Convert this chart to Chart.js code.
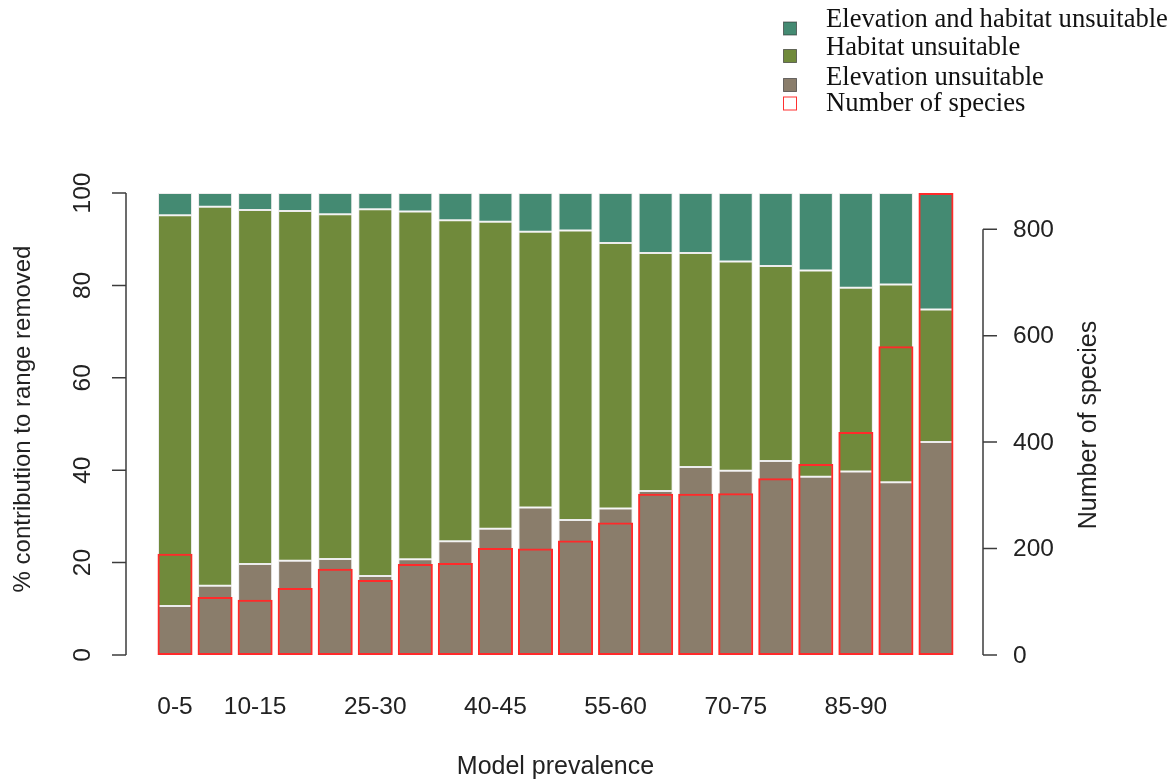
<!DOCTYPE html>
<html>
<head>
<meta charset="utf-8">
<script src="https://cdn.jsdelivr.net/npm/chart.js@4.4.1/dist/chart.umd.min.js"></script>
<style>
  html, body { margin: 0; padding: 0; background: #ffffff; }
  #wrap { width: 1175px; height: 781px; }
</style>
</head>
<body>
<div id="wrap"><canvas id="chart" width="1175" height="781"></canvas></div>
<script>
// Prevalence classes (model prevalence, %)
const categories = ['0-5', '5-10', '10-15', '15-20', '20-25', '25-30', '30-35', '35-40', '40-45', '45-50',
                    '50-55', '55-60', '60-65', '65-70', '70-75', '75-80', '80-85', '85-90', '90-95', '95-100'];
// Class labels printed under the bars
const shownTickLabels = ['0-5', '10-15', '25-30', '40-45', '55-60', '70-75', '85-90'];

// % contribution to range removed, per cause
const elevationUnsuitable = [10.6, 15.0, 19.7, 20.4, 20.8, 17.1, 20.7, 24.6, 27.3, 31.9,
                             29.2, 31.7, 35.5, 40.7, 39.9, 42.0, 38.6, 39.7, 37.4, 46.1];
const habitatUnsuitable = [84.6, 82.0, 76.6, 75.7, 74.6, 79.4, 75.3, 69.5, 66.5, 59.7,
                           62.7, 57.5, 51.5, 46.3, 45.3, 42.2, 44.6, 39.8, 42.8, 28.7];
const elevationAndHabitat = [4.8, 3.0, 3.7, 3.9, 4.6, 3.5, 4.0, 5.9, 6.2, 8.4,
                             8.1, 10.8, 13.0, 13.0, 14.8, 15.8, 16.8, 20.5, 19.8, 25.2];

// Number of species in each prevalence class
const numberOfSpecies = [190, 109, 104, 126, 162, 141, 171, 173, 201, 200,
                         215, 249, 303, 303, 304, 332, 359, 419, 580, 868];

// Axis ticks
const percentTicks = [0, 20, 40, 60, 80, 100];
const speciesTicks = [0, 200, 400, 600, 800];

const colTeal = '#448a72';
const colGreen = '#708a3b';
const colBrown = '#8a7d6b';
const sans = '"Liberation Sans", Arial, Helvetica, sans-serif';
const serif = '"Liberation Serif", "Times New Roman", serif';

// Axes, titles and legend in base-graphics style
const baseAxes = {
  id: 'baseAxes',
  afterDraw(chart) {
    const ctx = chart.ctx;
    const area = chart.chartArea;
    const x = chart.scales.x, y = chart.scales.y, y2 = chart.scales.y2;
    const midY = (area.top + area.bottom) / 2;
    ctx.save();

    // left axis
    const lx = area.left - 29;
    ctx.strokeStyle = '#3c3c3c';
    ctx.lineWidth = 1.5;
    ctx.beginPath();
    ctx.moveTo(lx, y.getPixelForValue(percentTicks[0]));
    ctx.lineTo(lx, y.getPixelForValue(percentTicks[percentTicks.length - 1]));
    percentTicks.forEach(v => {
      const py = y.getPixelForValue(v);
      ctx.moveTo(lx - 14, py);
      ctx.lineTo(lx, py);
    });
    ctx.stroke();

    ctx.fillStyle = '#222';
    ctx.font = '24.5px ' + sans;
    ctx.textAlign = 'center';
    ctx.textBaseline = 'alphabetic';
    percentTicks.forEach(v => {
      const py = y.getPixelForValue(v);
      ctx.save();
      ctx.translate(lx - 36, py);
      ctx.rotate(-Math.PI / 2);
      ctx.fillText(String(v), 0, 0);
      ctx.restore();
    });

    // left title
    ctx.font = '24px ' + sans;
    ctx.save();
    ctx.translate(30, midY - 5);
    ctx.rotate(-Math.PI / 2);
    ctx.fillText('% contribution to range removed', 0, 0);
    ctx.restore();

    // right axis
    const rx = area.right + 27;
    ctx.beginPath();
    ctx.moveTo(rx, y2.getPixelForValue(speciesTicks[0]));
    ctx.lineTo(rx, y2.getPixelForValue(speciesTicks[speciesTicks.length - 1]));
    speciesTicks.forEach(v => {
      const py = y2.getPixelForValue(v);
      ctx.moveTo(rx, py);
      ctx.lineTo(rx + 14, py);
    });
    ctx.stroke();

    ctx.font = '24.5px ' + sans;
    ctx.textAlign = 'left';
    ctx.textBaseline = 'middle';
    speciesTicks.forEach(v => {
      ctx.fillText(String(v), rx + 30, y2.getPixelForValue(v) + 1);
    });

    // right title
    ctx.font = '25px ' + sans;
    ctx.textAlign = 'center';
    ctx.textBaseline = 'alphabetic';
    ctx.save();
    ctx.translate(1096, midY + 1);
    ctx.rotate(-Math.PI / 2);
    ctx.fillText('Number of species', 0, 0);
    ctx.restore();

    // category labels
    ctx.font = '24.5px ' + sans;
    categories.forEach((c, i) => {
      if (shownTickLabels.includes(c)) {
        ctx.fillText(c, x.getPixelForValue(i), 714);
      }
    });

    // bottom title
    ctx.font = '25px ' + sans;
    ctx.fillText('Model prevalence', (area.left + area.right) / 2, 774);

    // legend
    const legendItems = [
      { label: 'Elevation and habitat unsuitable', fill: colTeal, stroke: 'rgba(40,40,40,0.6)', box: 22, text: 27 },
      { label: 'Habitat unsuitable', fill: colGreen, stroke: 'rgba(40,40,40,0.6)', box: 49.5, text: 55 },
      { label: 'Elevation unsuitable', fill: colBrown, stroke: 'rgba(40,40,40,0.6)', box: 78.5, text: 85 },
      { label: 'Number of species', fill: '#ffffff', stroke: '#ff3030', box: 97, text: 111 }
    ];
    ctx.font = '26.6px ' + serif;
    ctx.textAlign = 'left';
    ctx.textBaseline = 'alphabetic';
    legendItems.forEach(it => {
      ctx.fillStyle = it.fill;
      ctx.fillRect(783.5, it.box, 13, 13);
      ctx.strokeStyle = it.stroke;
      ctx.lineWidth = 1;
      ctx.strokeRect(783.5, it.box, 13, 13);
      ctx.fillStyle = '#111';
      ctx.fillText(it.label, 826, it.text);
    });

    ctx.restore();
  }
};

const segmentStyle = {
  borderColor: '#ececec',
  borderWidth: 1,
  borderSkipped: false,
  barPercentage: 0.85,
  categoryPercentage: 1.0,
  grouped: false,
  xAxisID: 'x',
  yAxisID: 'y'
};

new Chart(document.getElementById('chart'), {
  type: 'bar',
  data: {
    labels: categories,
    datasets: [
      Object.assign({ label: 'Elevation unsuitable', data: elevationUnsuitable, backgroundColor: colBrown, order: 1 }, segmentStyle),
      Object.assign({ label: 'Habitat unsuitable', data: habitatUnsuitable, backgroundColor: colGreen, order: 1 }, segmentStyle),
      Object.assign({ label: 'Elevation and habitat unsuitable', data: elevationAndHabitat, backgroundColor: colTeal, order: 1 }, segmentStyle),
      {
        label: 'Number of species',
        data: numberOfSpecies,
        backgroundColor: 'rgba(0,0,0,0)',
        borderColor: '#ff2a2a',
        borderWidth: 2,
        borderSkipped: false,
        barPercentage: 0.875,
        categoryPercentage: 1.0,
        grouped: false,
        xAxisID: 'x2',
        yAxisID: 'y2',
        order: 0
      }
    ]
  },
  options: {
    responsive: false,
    animation: false,
    devicePixelRatio: 1,
    layout: { padding: { top: 193, left: 0, right: 0, bottom: 0 } },
    plugins: {
      legend: { display: false },
      tooltip: { enabled: false }
    },
    events: [],
    scales: {
      x: {
        type: 'category',
        stacked: true,
        offset: true,
        grid: { display: false },
        border: { display: false },
        ticks: { display: false },
        afterFit(scale) { scale.height = 126; }
      },
      x2: {
        type: 'category',
        display: false,
        offset: true,
        grid: { display: false }
      },
      y: {
        type: 'linear',
        position: 'left',
        stacked: true,
        min: percentTicks[0],
        max: percentTicks[percentTicks.length - 1],
        grid: { display: false },
        border: { display: false },
        ticks: { display: false },
        afterFit(scale) { scale.width = 155; }
      },
      y2: {
        type: 'linear',
        position: 'right',
        min: 0,
        max: Math.max(...numberOfSpecies),
        grid: { display: false },
        border: { display: false },
        ticks: { display: false },
        afterFit(scale) { scale.width = 219; }
      }
    }
  },
  plugins: [baseAxes]
});
</script>
</body>
</html>
